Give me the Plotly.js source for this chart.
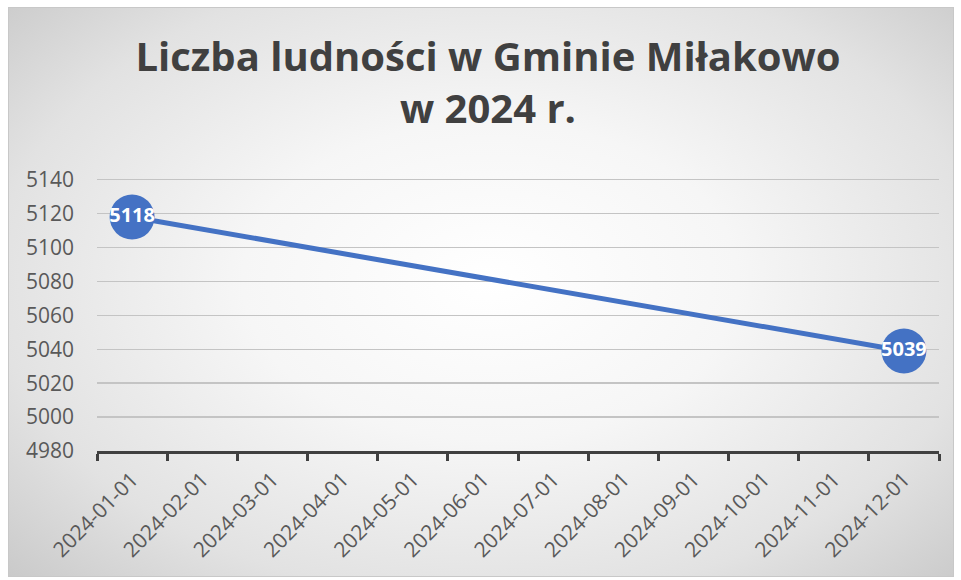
<!DOCTYPE html>
<html>
<head>
<meta charset="utf-8">
<script src="https://cdn.plot.ly/plotly-3.0.1.min.js"></script>
<style>
  html, body { margin: 0; padding: 0; background: #ffffff; }
  #bg {
    position: absolute; left: 8px; top: 7px; width: 946px; height: 570px;
    border: 1px solid #c8c8c8; box-sizing: border-box;
    background: radial-gradient(ellipse 75% 80% at 51% 48%, #ffffff 0%, #f6f6f6 35%, #e2e2e2 70%, #c4c4c4 100%);
  }
  #chart { position: absolute; left: 0; top: 0; width: 961px; height: 580px; }
</style>
</head>
<body>
<div id="bg"></div>
<div id="chart"></div>
<script>
// Data
const categories = ['2024-01-01','2024-02-01','2024-03-01','2024-04-01','2024-05-01','2024-06-01',
                    '2024-07-01','2024-08-01','2024-09-01','2024-10-01','2024-11-01','2024-12-01'];
const population = [5118, null, null, null, null, null, null, null, null, null, null, 5039];
const yTicks = [4980, 5000, 5020, 5040, 5060, 5080, 5100, 5120, 5140];
const titleText = 'Liczba ludności w Gminie Miłakowo<br>w 2024 r.';

const labels = population.map(v => v === null ? '' : String(v));

const trace = {
  type: 'scatter',
  mode: 'lines+markers+text',
  x: categories,
  y: population,
  connectgaps: true,
  line: { color: '#4472C4', width: 5 },
  marker: { color: '#4472C4', size: 45 },
  text: labels,
  textposition: 'middle center',
  textfont: { family: 'Open Sans, sans-serif', size: 20, color: '#ffffff', weight: 'bold' },
  cliponaxis: false,
  hoverinfo: 'x+y'
};

const layout = {
  width: 961, height: 580,
  paper_bgcolor: 'rgba(0,0,0,0)',
  plot_bgcolor: 'rgba(0,0,0,0)',
  margin: { l: 97, r: 22, t: 178, b: 129 },
  showlegend: false,
  font: { family: 'Open Sans, sans-serif', color: '#595959' },
  title: {
    text: titleText,
    font: { family: 'Open Sans, sans-serif', size: 40, color: '#404040', weight: 'bold' },
    xref: 'container', yref: 'container',
    x: 488 / 961, xanchor: 'center',
    y: 1 - 71 / 580, yanchor: 'top'
  },
  xaxis: {
    type: 'category',
    categoryorder: 'array',
    categoryarray: categories,
    tickvals: categories,
    ticktext: categories,
    tickangle: -45,
    tickfont: { size: 21, color: '#595959' },
    ticklabelstandoff: 5,
    showline: true, linecolor: '#404040', linewidth: 3,
    ticks: 'outside', tickson: 'boundaries', ticklen: 7, tickwidth: 3, tickcolor: '#404040',
    showgrid: false, zeroline: false,
    range: [-0.5, 11.5]
  },
  yaxis: {
    range: [4980, 5141],
    tickvals: yTicks,
    ticktext: yTicks.map(String),
    tickfont: { size: 21, color: '#595959' },
    ticklabelstandoff: 22,
    showgrid: true, gridcolor: '#c4c4c4', gridwidth: 1.5,
    showline: false, zeroline: false, ticks: ''
  }
};

Plotly.newPlot('chart', [trace], layout, { displayModeBar: false, staticPlot: true });
</script>
</body>
</html>
